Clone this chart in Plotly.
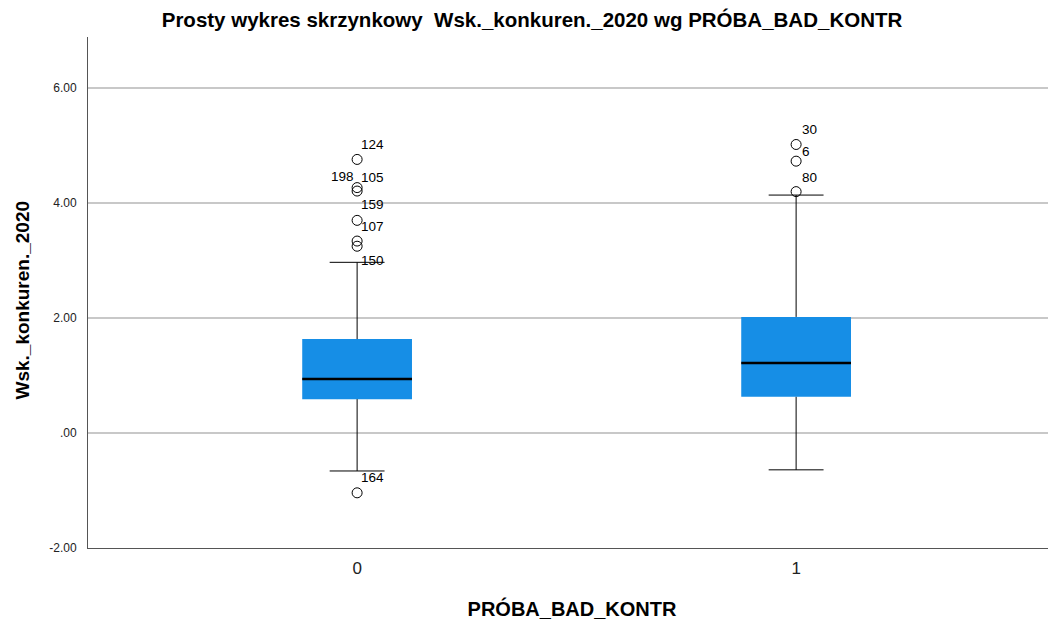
import plotly.graph_objects as go

# ---- data ----
categories = [0, 1]
category_labels = ["0", "1"]
q1 = [0.59, 0.63]
median = [0.94, 1.22]
q3 = [1.635, 2.02]
lower_whisker = [-0.66, -0.64]
upper_whisker = [2.97, 4.14]

outlier_cat = [0, 0, 0, 0, 0, 0, 0, 1, 1, 1]
outlier_val = [4.76, 4.27, 4.21, 3.70, 3.34, 3.25, -1.04, 5.02, 4.73, 4.20]
outlier_lab = ["124", "198", "105", "159", "107", "150", "164", "30", "6", "80"]
# label placement (pixels relative to the point)
lab_dx = [2, -1, 2, 2, 2, 2, 2, 4, 4, 4]
lab_dy = [15, 11, 14, 16, 15, -14, 15, 15, 10, 14]
lab_anchor = ["left", "right", "left", "left", "left", "left", "left", "left", "left", "left"]

y_ticks = [-2, 0, 2, 4, 6]
y_ticktext = ["-2.00", ".00", "2.00", "4.00", "6.00"]

BLUE = "rgb(22,142,230)"
BOXW = 0.25
FONT = "Liberation Sans, Arial"

fig = go.Figure()

# boxes (fill) via the library's box trace
fig.add_trace(go.Box(
    x=categories, q1=q1, median=median, q3=q3,
    lowerfence=lower_whisker, upperfence=upper_whisker,
    width=BOXW, whiskerwidth=0.5,
    fillcolor=BLUE, line=dict(color=BLUE, width=0),
    boxpoints=False, hoverinfo="skip", showlegend=False,
))

# whiskers, caps and medians in black
for i, c in enumerate(categories):
    fig.add_trace(go.Scatter(
        x=[c, c, None, c, c, None,
           c - BOXW / 4, c + BOXW / 4, None, c - BOXW / 4, c + BOXW / 4],
        y=[q3[i], upper_whisker[i], None, q1[i], lower_whisker[i], None,
           upper_whisker[i], upper_whisker[i], None, lower_whisker[i], lower_whisker[i]],
        mode="lines", line=dict(color="black", width=1),
        hoverinfo="skip", showlegend=False,
    ))
    fig.add_trace(go.Scatter(
        x=[c - BOXW / 2, c + BOXW / 2], y=[median[i], median[i]],
        mode="lines", line=dict(color="black", width=2.5),
        hoverinfo="skip", showlegend=False,
    ))

# outliers
fig.add_trace(go.Scatter(
    x=outlier_cat, y=outlier_val, mode="markers",
    marker=dict(symbol="circle-open", size=10, color="black", line=dict(width=1)),
    hoverinfo="skip", showlegend=False,
))

annotations = []
for c, v, t, dx, dy, a in zip(outlier_cat, outlier_val, outlier_lab, lab_dx, lab_dy, lab_anchor):
    annotations.append(dict(
        x=c, y=v, xref="x", yref="y", text=t, showarrow=False,
        xanchor=a, yanchor="middle", xshift=dx, yshift=dy,
        font=dict(family=FONT, size=13.5, color="black"),
    ))

# y-axis title
annotations.append(dict(
    x=0, y=0.5, xref="paper", yref="paper", text="<b>Wsk._konkuren._2020</b>",
    textangle=-90, showarrow=False, xanchor="center", yanchor="middle",
    xshift=-66, yshift=-8, font=dict(family=FONT, size=19, color="black"),
))

fig.update_layout(
    width=1048, height=612,
    margin=dict(l=80, r=0, t=29, b=72),
    paper_bgcolor="white", plot_bgcolor="white",
    title=dict(
        text="<b>Prosty wykres skrzynkowy  Wsk._konkuren._2020 wg PRÓBA_BAD_KONTR</b>",
        xref="container", x=0.5, xanchor="center",
        yref="container", y=0.980, yanchor="middle",
        font=dict(family=FONT, size=20.5, color="black"),
    ),
    annotations=annotations,
    font=dict(family=FONT, color="black"),
)

fig.update_xaxes(
    range=[-0.613, 1.592], tickvals=categories, ticktext=category_labels,
    showgrid=False, zeroline=False, showline=True, linecolor="#555555", linewidth=1,
    ticks="", ticklabelstandoff=5, tickfont=dict(size=17, color="#222222"),
    title=dict(text="<b>PRÓBA_BAD_KONTR</b>", font=dict(size=20, color="black"), standoff=28),
)
fig.update_yaxes(
    range=[-2.0, 6.89], tickvals=y_ticks, ticktext=y_ticktext,
    showgrid=True, gridcolor="#c8c8c8", gridwidth=1.5,
    zeroline=False, showline=True, linecolor="#555555", linewidth=1,
    ticks="", ticklabelstandoff=8, tickfont=dict(size=12, color="#222222"),
)

fig.write_html("out.html")
